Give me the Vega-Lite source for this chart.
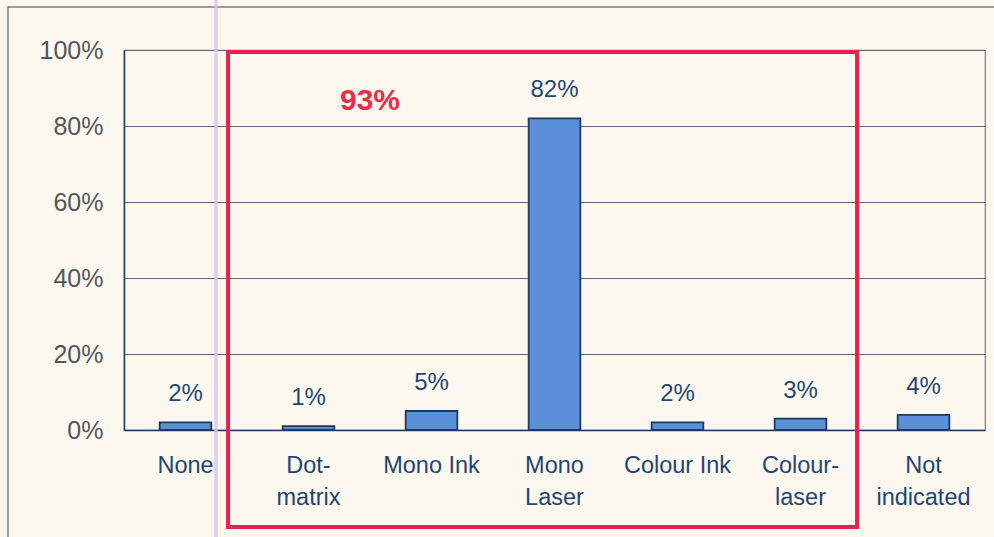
{
  "$schema": "https://vega.github.io/schema/vega-lite/v6.json",
  "width": 861,
  "height": 380,
  "autosize": {"type": "none"},
  "padding": {"left": 124, "top": 50, "right": 9, "bottom": 107},
  "background": "#fcf8f0",
  "config": {
    "font": "Liberation Sans",
    "view": {"stroke": "#6f7d8a", "strokeWidth": 1.2}
  },
  "data": {
    "values": [
      {"printer": "None", "share": 2},
      {"printer": "Dot-\nmatrix", "share": 1},
      {"printer": "Mono Ink", "share": 5},
      {"printer": "Mono\nLaser", "share": 82},
      {"printer": "Colour Ink", "share": 2},
      {"printer": "Colour-\nlaser", "share": 3},
      {"printer": "Not\nindicated", "share": 4}
    ]
  },
  "resolve": {"scale": {"x": "independent"}},
  "layer": [
    {
      "mark": {"type": "bar", "fill": "#5b90d8", "stroke": "#1d3a5e", "strokeWidth": 1.8},
      "encoding": {
        "x": {
          "field": "printer", "type": "nominal", "sort": null,
          "scale": {"paddingInner": 0.58, "paddingOuter": 0.29},
          "axis": {
            "title": null, "labelAngle": 0, "ticks": false,
            "domain": true, "domainColor": "#1d3a5e", "domainWidth": 1.5,
            "labelExpr": "split(datum.value, '\\n')",
            "labelFontSize": 23.5, "labelColor": "#1f4670",
            "labelPadding": 23, "labelLineHeight": 32, "labelBaseline": "top"
          }
        },
        "y": {
          "field": "share", "type": "quantitative",
          "scale": {"domain": [0, 100], "nice": false},
          "axis": {
            "title": null, "values": [0, 20, 40, 60, 80, 100],
            "labelExpr": "datum.value + '%'",
            "ticks": false, "labelPadding": 21,
            "labelFontSize": 25, "labelColor": "#515759",
            "domainColor": "#1d3a5e", "domainWidth": 1.5,
            "grid": true, "gridColor": "#56687a", "gridWidth": 1.2
          }
        }
      }
    },
    {
      "transform": [{"calculate": "datum.share + '%'", "as": "shareLabel"}],
      "mark": {"type": "text", "baseline": "alphabetic", "dy": -21, "fontSize": 24, "color": "#1f4670"},
      "encoding": {
        "x": {"field": "printer", "type": "nominal", "sort": null, "scale": {"paddingInner": 0.58, "paddingOuter": 0.29}, "axis": null},
        "y": {"field": "share", "type": "quantitative"},
        "text": {"field": "shareLabel"}
      }
    },
    {
      "data": {"values": [{"x0": -0.943, "x1": 8, "y0": 111.3, "y1": -40}]},
      "mark": {"type": "rect", "fill": null, "stroke": "#7a7f84", "strokeWidth": 1.5},
      "encoding": {
        "x": {"field": "x0", "type": "quantitative", "scale": {"domain": [0, 7], "nice": false, "zero": false}, "axis": null},
        "x2": {"field": "x1"},
        "y": {"field": "y0", "type": "quantitative"},
        "y2": {"field": "y1"}
      }
    },
    {
      "data": {"values": [{"x": 0.748, "y0": 114, "y1": -30}]},
      "mark": {"type": "rule", "stroke": "#dcbff2", "strokeWidth": 3.5, "opacity": 0.8},
      "encoding": {
        "x": {"field": "x", "type": "quantitative", "scale": {"domain": [0, 7], "nice": false, "zero": false}, "axis": null},
        "y": {"field": "y0", "type": "quantitative"},
        "y2": {"field": "y1"}
      }
    },
    {
      "data": {"values": [{"x0": 0.846, "x1": 5.96, "y0": 99.5, "y1": -25.5}]},
      "mark": {"type": "rect", "fill": null, "stroke": "#ee1f4f", "strokeWidth": 4},
      "encoding": {
        "x": {"field": "x0", "type": "quantitative", "scale": {"domain": [0, 7], "nice": false, "zero": false}, "axis": null},
        "x2": {"field": "x1"},
        "y": {"field": "y0", "type": "quantitative"},
        "y2": {"field": "y1"}
      }
    },
    {
      "data": {"values": [{"x": 2.0, "y": 86.6, "total": "93%"}]},
      "mark": {"type": "text", "fontSize": 30, "fontWeight": "bold", "color": "#ef2a4c", "baseline": "middle"},
      "encoding": {
        "x": {"field": "x", "type": "quantitative", "scale": {"domain": [0, 7], "nice": false, "zero": false}, "axis": null},
        "y": {"field": "y", "type": "quantitative"},
        "text": {"field": "total"}
      }
    }
  ]
}
